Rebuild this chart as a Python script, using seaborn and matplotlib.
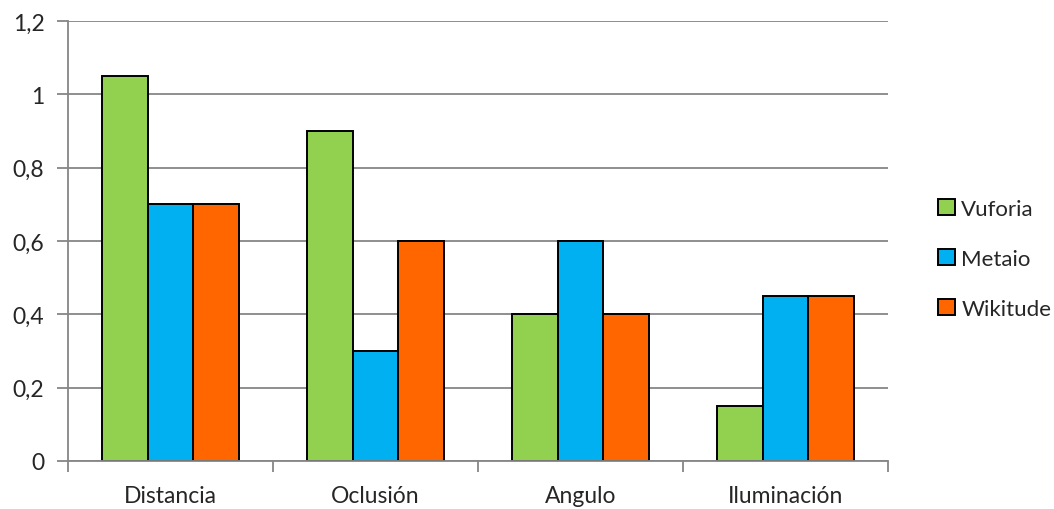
import matplotlib
matplotlib.use("Agg")
import matplotlib.pyplot as plt
from matplotlib.ticker import FixedLocator, FuncFormatter
import seaborn as sns
import pandas as pd

categories = ["Distancia", "Oclusión", "Angulo", "Iluminación"]
series = ["Vuforia", "Metaio", "Wikitude"]
vuforia = [1.05, 0.9, 0.4, 0.15]
metaio = [0.7, 0.3, 0.6, 0.45]
wikitude = [0.7, 0.6, 0.4, 0.45]
y_ticks = [0, 0.2, 0.4, 0.6, 0.8, 1.0, 1.2]
colors = ["#92D050", "#00B0F0", "#FF6600"]

df = pd.DataFrame({
    "categoria": categories * 3,
    "valor": vuforia + metaio + wikitude,
    "serie": [s for s in series for _ in categories],
})

sns.set_theme(style="white")
plt.rcParams["font.family"] = ["Lato", "DejaVu Sans"]

fig = plt.figure(figsize=(10.54, 5.10), dpi=100)
ax = fig.add_axes([68 / 1054, 48 / 510, 820 / 1054, 440 / 510])

sns.barplot(data=df, x="categoria", y="valor", hue="serie", order=categories,
            hue_order=series, palette=colors, width=0.67, edgecolor="black",
            linewidth=1.4, ax=ax, saturation=1, legend=True)

grid_c = "#868686"
ax.set_ylim(0, 1.2)
ax.set_xlim(-0.5, len(categories) - 0.5)
ax.yaxis.set_major_locator(FixedLocator(y_ticks))
ax.yaxis.set_major_formatter(FuncFormatter(lambda v, p: f"{v:g}".replace(".", ",")))
ax.set_axisbelow(True)
ax.grid(axis="y", color=grid_c, linewidth=1.3)
for s in ["top", "right"]:
    ax.spines[s].set_visible(False)
for s in ["left", "bottom"]:
    ax.spines[s].set_color(grid_c)
    ax.spines[s].set_linewidth(1.3)

ax.set_xlabel("")
ax.set_ylabel("")
ax.tick_params(axis="y", which="major", direction="out", length=8, width=1.3,
               color=grid_c, labelsize=16.5, pad=9, left=True)
ax.tick_params(axis="x", which="major", length=0, labelsize=16.5, pad=17)
ax.xaxis.set_minor_locator(FixedLocator([i - 0.5 for i in range(len(categories) + 1)]))
ax.tick_params(axis="x", which="minor", direction="out", length=8, width=1.3,
               color=grid_c, bottom=True)

handles, labels = ax.get_legend_handles_labels()
ax.legend(handles, labels, loc="center left", bbox_to_anchor=(929 / 1054, 250 / 510),
          bbox_transform=fig.transFigure, frameon=False, fontsize=16,
          handlelength=0.75, handleheight=0.75, handletextpad=0.3,
          labelspacing=1.35, borderaxespad=0)

fig.savefig("out.png", dpi=100)
